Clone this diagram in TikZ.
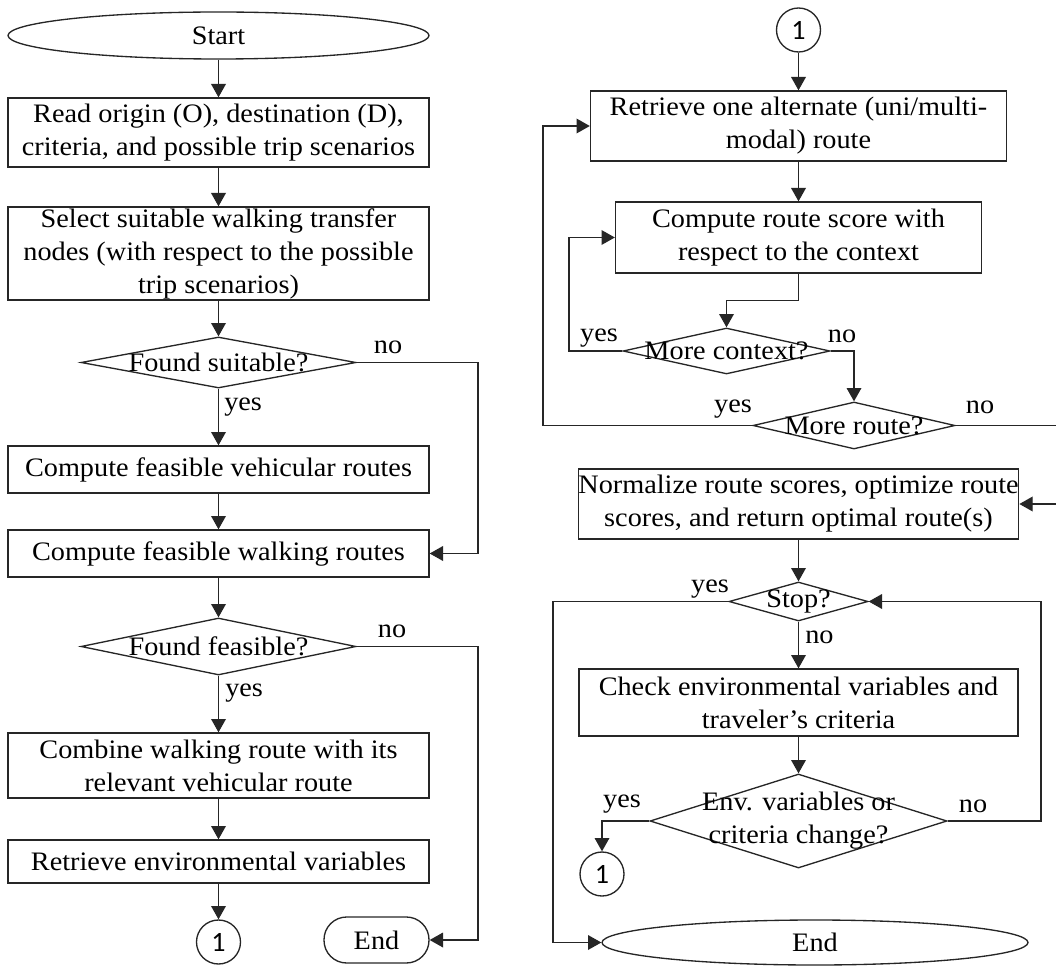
\documentclass[tikz,border=0pt]{standalone}
\usepackage{fontspec}
\setmainfont[FakeStretch=1.06]{Liberation Serif}
\newfontfamily\numfont{Carlito}
\usetikzlibrary{shapes.geometric,arrows.meta}
\newcommand\pxl{0.75pt}

\begin{document}
\begin{tikzpicture}[x=0.75pt,y=-0.75pt,
  every node/.style={font=\fontsize{20}{24.75}\selectfont, inner sep=0pt},
  line/.style={draw=black!85, line width=1pt},
  arr/.style={line, -{Triangle[length=10pt,width=11pt]}},
  proc/.style={draw=black!85, line width=1pt, rectangle, align=center},
  dec/.style={draw=black!85, line width=1pt, diamond},
  term/.style={draw=black!85, line width=1pt, ellipse},
  pill/.style={draw=black!85, line width=1pt, rectangle, rounded corners=17pt},
  conn/.style={draw=black!85, line width=1pt, circle, minimum size=44*\pxl,
    font=\numfont\fontsize{21}{24}\selectfont},
  lbl/.style={anchor=base}]

\useasboundingbox (0,0) rectangle (1056,966);
\clip (0,0) rectangle (1056,966);

% ---------------- left column ----------------
\node[term, minimum width=421*\pxl, minimum height=47*\pxl] (start) at (218.5,35.5) {Start};
\node[proc, minimum width=421*\pxl, minimum height=69*\pxl] (b1) at (218.5,132.5)
  {Read origin (O), destination (D),\\criteria, and possible trip scenarios};
\node[proc, minimum width=421*\pxl, minimum height=93*\pxl] (b2) at (218.5,253.5)
  {Select suitable walking transfer\\nodes (with respect to the possible\\trip scenarios)};
\node[dec, minimum width=275*\pxl, minimum height=51*\pxl] (d1) at (218.5,362.5) {};
\node at (d1) {Found suitable?};
\node[proc, minimum width=421*\pxl, minimum height=47*\pxl] (b3) at (218.5,469.5)
  {Compute feasible vehicular routes};
\node[proc, minimum width=421*\pxl, minimum height=47*\pxl] (b4) at (218.5,553.5)
  {Compute feasible walking routes};
\node[dec, minimum width=275*\pxl, minimum height=57*\pxl] (d2) at (218.5,646.5) {};
\node at (d2) {Found feasible?};
\node[proc, minimum width=421*\pxl, minimum height=65*\pxl] (b5) at (218.5,765.5)
  {Combine walking route with its\\relevant vehicular route};
\node[proc, minimum width=421*\pxl, minimum height=43*\pxl] (b6) at (218.5,861.5)
  {Retrieve environmental variables};
\node[conn] (c1) at (218.5,942) {1};
\node[pill, minimum width=105*\pxl, minimum height=46*\pxl] (endL) at (376.5,940) {End};

% ---------------- right column ----------------
\node[conn] (c2) at (798.5,30) {1};
\node[proc, minimum width=416*\pxl, minimum height=70*\pxl] (r1) at (798.5,126)
  {Retrieve one alternate (uni/multi-\\modal) route};
\node[proc, minimum width=366*\pxl, minimum height=71*\pxl] (r2) at (798.5,237.5)
  {Compute route score with\\respect to the context};
\node[dec, minimum width=207*\pxl, minimum height=46*\pxl] (d3) at (726.5,351) {};
\node at (d3) {More context?};
\node[dec, minimum width=202*\pxl, minimum height=47*\pxl] (d4) at (854,425.5) {};
\node at (d4) {More route?};
\node[proc, minimum width=439*\pxl, minimum height=70*\pxl] (norm) at (798.5,504)
  {Normalize route scores, optimize route\\scores, and return optimal route(s)};
\node[dec, minimum width=139*\pxl, minimum height=39*\pxl] (stop) at (798.5,601.5) {};
\node at (stop) {Stop?};
\node[proc, minimum width=439*\pxl, minimum height=67*\pxl] (check) at (798.5,702.5)
  {Check environmental variables and\\traveler’s criteria};
\node[dec, minimum width=297*\pxl, minimum height=94*\pxl] (d5) at (798.5,821) {};
\node[align=center] at (d5) {Env. variables or\\criteria change?};
\node[conn] (c3) at (602,874) {1};
\node[term, minimum width=426*\pxl, minimum height=45*\pxl] (endR) at (815,942.5) {End};

% routing columns for the side connectors
\coordinate (rl) at (478,0);
\coordinate (lx3) at (569,0);
\coordinate (lx4) at (543,0);
\coordinate (lx5) at (553,0);
\coordinate (rx4) at (1062,0);
\coordinate (rx5) at (1041,0);

% ---------------- connectors, left ----------------
\draw[arr] (start) -- (b1);
\draw[arr] (b1) -- (b2);
\draw[arr] (b2) -- (d1.north);
\draw[arr] (d1.south) -- (b3);
\draw[arr] (b3) -- (b4);
\draw[arr] (d1.east) -- (d1.east -| rl) |- (b4.east);
\draw[arr] (b4) -- (d2.north);
\draw[arr] (d2.south) -- (b5);
\draw[arr] (b5) -- (b6);
\draw[arr] (b6) -- (c1);
\draw[arr] (d2.east) -- (d2.east -| rl) |- (endL.east);

% ---------------- connectors, right ----------------
\draw[arr] (c2) -- (r1);
\draw[arr] (r1) -- (r2);
\draw[arr] (r2.south) -- ++(0,27) -| (d3.north);
\draw[arr] (d3.west) -- (d3.west -| lx3) |- (r2.west);
\draw[arr] (d3.east) -| (d4.north);
\draw[arr] (d4.west) -- (d4.west -| lx4) |- (r1.west);
\draw[arr] (d4.east) -- (d4.east -| rx4) |- (norm.east);
\draw[arr] (norm) -- (stop.north);
\draw[arr] (stop.west) -- (stop.west -| lx5) |- (endR.west);
\draw[arr] (stop.south) -- (check);
\draw[arr] (check) -- (d5.north);
\draw[arr] (d5.west) -| (c3.north);
\draw[arr] (d5.east) -- (d5.east -| rx5) |- (stop.east);

% ---------------- branch labels ----------------
\node[lbl] at (388,353) {no};
\node[lbl, anchor=base west] at (224,410) {yes};
\node[lbl] at (392,637) {no};
\node[lbl, anchor=base west] at (225,696) {yes};
\node[lbl] at (599,341) {yes};
\node[lbl] at (842,342) {no};
\node[lbl] at (733,412) {yes};
\node[lbl] at (980,413) {no};
\node[lbl] at (710,592) {yes};
\node[lbl, anchor=base west] at (805,643) {no};
\node[lbl] at (622,807) {yes};
\node[lbl] at (973,812) {no};
\end{tikzpicture}
\end{document}
